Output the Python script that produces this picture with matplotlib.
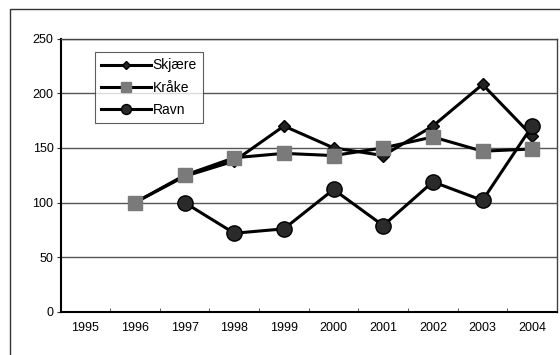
import matplotlib
matplotlib.use("Agg")
import matplotlib.pyplot as plt
from matplotlib.patches import Rectangle
import numpy as np

years = ["1995", "1996", "1997", "1998", "1999", "2000", "2001", "2002", "2003", "2004"]
skjaere = [None, 100, 124, 138, 170, 150, 143, 170, 208, 161]
kraake = [None, 100, 125, 141, 145, 143, 150, 160, 147, 149]
ravn = [None, None, 100, 72, 76, 112, 79, 119, 102, 170]
y_ticks = [0, 50, 100, 150, 200, 250]

plt.rcParams["font.family"] = ["Liberation Sans", "DejaVu Sans"]

fig = plt.figure(figsize=(5.6, 3.55), dpi=100)
fig.patch.set_facecolor("white")

# outer chart frame
fig.patches.append(Rectangle((10 / 560, -0.1), 1.0, (355 - 9) / 355 + 0.1,
                             transform=fig.transFigure, fill=False,
                             edgecolor="#333333", linewidth=1.0))

ax = fig.add_axes([60.5 / 560, 43 / 355, (557 - 60.5) / 560, (312 - 38.5) / 355])

x = np.arange(len(years))


def series(vals):
    return np.array([np.nan if v is None else v for v in vals], dtype=float)


ax.plot(x, series(skjaere), color="black", linewidth=2.2, marker="D",
        markersize=6, markerfacecolor="#222222", markeredgecolor="black",
        label="Skjære", zorder=3)
ax.plot(x, series(kraake), color="black", linewidth=2.2, marker="s",
        markersize=10, markerfacecolor="#7a7a7a", markeredgecolor="#7a7a7a",
        label="Kråke", zorder=4)
ax.plot(x, series(ravn), color="black", linewidth=2.2, marker="o",
        markersize=11, markerfacecolor="#2a2a2a", markeredgecolor="black",
        label="Ravn", zorder=5)

ax.set_xlim(-0.5, len(years) - 0.5)
ax.set_ylim(0, 250)
ax.set_yticks(y_ticks)
ax.set_yticklabels([str(v) for v in y_ticks], fontsize=9)
ax.set_xticks(x)
ax.set_xticklabels(years, fontsize=9)
ax.tick_params(axis="x", length=0, pad=7)
ax.set_xticks(np.arange(len(years) - 1) + 0.5, minor=True)
ax.tick_params(axis="x", which="minor", length=3, direction="in", color="#444444")
ax.tick_params(axis="y", length=3, direction="out", pad=2, color="#333333")

ax.yaxis.grid(True, color="#555555", linewidth=1.0)
ax.set_axisbelow(True)
for side in ["top", "right"]:
    ax.spines[side].set_color("#444444")
    ax.spines[side].set_linewidth(1.0)
ax.spines["left"].set_linewidth(1.5)
ax.spines["bottom"].set_linewidth(1.5)

leg = ax.legend(loc="upper left", bbox_to_anchor=(0.069, 0.95), fontsize=10,
                frameon=True, fancybox=False, edgecolor="#333333",
                handlelength=3.6, handletextpad=0.1, borderpad=0.45,
                labelspacing=0.6, markerscale=0.65, borderaxespad=0)
leg.get_frame().set_linewidth(0.8)

fig.savefig("out.png", dpi=100, facecolor="white")
